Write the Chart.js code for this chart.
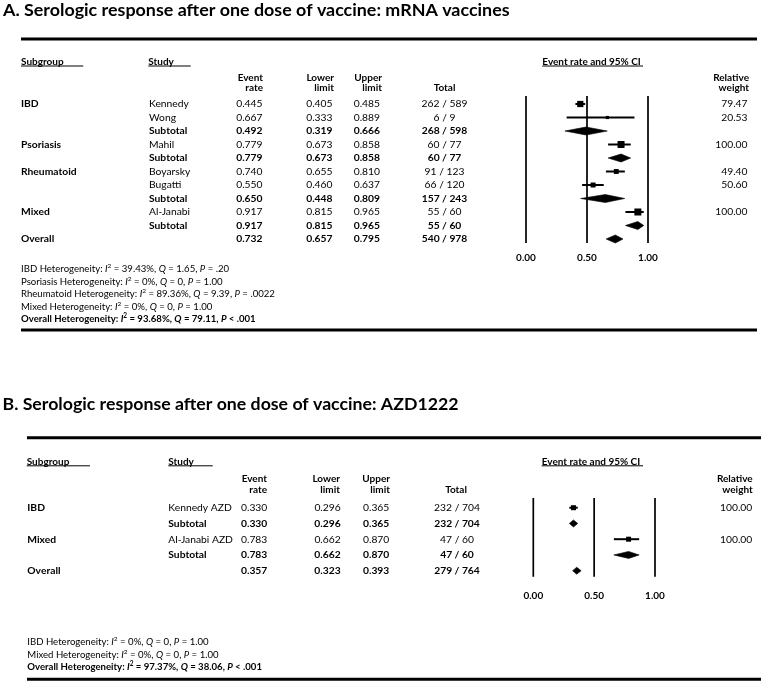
<!DOCTYPE html>
<html><head><meta charset="utf-8">
<script src="https://cdn.jsdelivr.net/npm/chart.js@4.4.1/dist/chart.umd.min.js"></script>
<style>
html,body{margin:0;padding:0;background:#fff;overflow:hidden}
#wrap{position:relative;width:763px;height:682px;background:#fff}
canvas{position:absolute;left:0}
</style></head><body>
<div id="wrap">
<canvas id="cA" width="763" height="382" style="top:0px"></canvas>
<canvas id="cB" width="763" height="300" style="top:382px"></canvas>
</div>
<script>
// ---------- DATA ----------
const tickValues = [0, 0.5, 1];
const tickLabels = ["0.00", "0.50", "1.00"];

// Panel A: mRNA vaccines
const aTitle = "A. Serologic response after one dose of vaccine: mRNA vaccines";
const aSubgroups = ["IBD", "", "", "Psoriasis", "", "Rheumatoid", "", "", "Mixed", "", "Overall"];
const aStudies = ["Kennedy", "Wong", "Subtotal", "Mahil", "Subtotal", "Boyarsky", "Bugatti", "Subtotal", "Al-Janabi", "Subtotal", ""];
const aKinds = ["s", "s", "d", "s", "d", "s", "s", "d", "s", "d", "o"];
const aRate = [0.445, 0.667, 0.492, 0.779, 0.779, 0.740, 0.550, 0.650, 0.917, 0.917, 0.732];
const aLower = [0.405, 0.333, 0.319, 0.673, 0.673, 0.655, 0.460, 0.448, 0.815, 0.815, 0.657];
const aUpper = [0.485, 0.889, 0.666, 0.858, 0.858, 0.810, 0.637, 0.809, 0.965, 0.965, 0.795];
const aTotals = ["262 / 589", "6 / 9", "268 / 598", "60 / 77", "60 / 77", "91 / 123", "66 / 120", "157 / 243", "55 / 60", "55 / 60", "540 / 978"];
const aWeights = ["79.47", "20.53", "", "100.00", "", "49.40", "50.60", "", "100.00", "", ""];
const aHetNames = ["IBD", "Psoriasis", "Rheumatoid", "Mixed", "Overall"];
const aHetI2 = ["39.43%", "0%", "89.36%", "0%", "93.68%"];
const aHetQ = ["1.65", "0", "9.39", "0", "79.11"];
const aHetP = ["= .20", "= 1.00", "= .0022", "= 1.00", "< .001"];

// Panel B: AZD1222
const bTitle = "B. Serologic response after one dose of vaccine: AZD1222";
const bSubgroups = ["IBD", "", "Mixed", "", "Overall"];
const bStudies = ["Kennedy AZD", "Subtotal", "Al-Janabi AZD", "Subtotal", ""];
const bKinds = ["s", "d", "s", "d", "o"];
const bRate = [0.330, 0.330, 0.783, 0.783, 0.357];
const bLower = [0.296, 0.296, 0.662, 0.662, 0.323];
const bUpper = [0.365, 0.365, 0.870, 0.870, 0.393];
const bTotals = ["232 / 704", "232 / 704", "47 / 60", "47 / 60", "279 / 764"];
const bWeights = ["100.00", "", "100.00", "", ""];
const bHetNames = ["IBD", "Mixed", "Overall"];
const bHetI2 = ["0%", "0%", "97.37%"];
const bHetQ = ["0", "0", "38.06"];
const bHetP = ["= 1.00", "= 1.00", "< .001"];

// ---------- LAYOUT / STYLE ----------
const FONT = 'Lato, "Open Sans", sans-serif';
const FS = 10.3;     // table text
const FSH = 10;      // header text
const FSHET = 9.6;   // heterogeneity text
const AXH = 30;

const LA = {
  off: 0, h: 382,
  title: {x: 3, y: 15.5, w: 507},
  topRule: {y: 39, x0: 21, x1: 757},
  botRule: {y: 330, x0: 21, x1: 757},
  hdr1Y: 61.5, hSub: {x: 21, ul: 83.3}, hStudy: {x: 148.3, ul: 190.7}, hCI: {x: 542.3, ul: 643},
  hdr2Y: [77.5, 87.5],
  hdrR: {er: 263, ll: 334, ul: 382, tot: 444.5, wt: 749},
  cols: {sub: 21, study: 149, er: 262.5, ll: 332.5, ul: 380, tot: 444.5, wt: 747.5},
  row0: 104, rowH: 13.5,
  plot: {x0: 526, x1: 648, top: 96, bot: 243, tickY: 258},
  het: {x: 21, y0: 269, dy: 12.6},
  sq: 0.7, dh: 4
};
const LB = {
  off: 382, h: 300,
  title: {x: 2.5, y: 409.5, w: 456.5},
  topRule: {y: 437.7, x0: 27, x1: 761},
  botRule: {y: 679.3, x0: 27, x1: 761},
  hdr1Y: 461.3, hSub: {x: 26.7, ul: 90}, hStudy: {x: 168.3, ul: 212.7}, hCI: {x: 541.7, ul: 643},
  hdr2Y: [479, 489.3],
  hdrR: {er: 267, ll: 340, ul: 390, tot: 456, wt: 752.7},
  cols: {sub: 27.3, study: 168.3, er: 267.3, ll: 340.7, ul: 389.3, tot: 457, wt: 752.3},
  row0: 507.7, rowH: 15.75,
  plot: {x0: 533.3, x1: 655, top: 498, bot: 576.7, tickY: 595.7},
  het: {x: 27.3, y0: 642.3, dy: 12.35},
  sq: 0.5, dh: 3.5
};

// ---------- DRAW HELPERS ----------
function setFont(ctx, size, bold, italic) {
  ctx.font = (italic ? 'italic ' : '') + (bold ? 'bold ' : '') + size + 'px ' + FONT;
}
function txt(ctx, s, x, y, align, bold, size) {
  setFont(ctx, size || FS, bold, false);
  ctx.textAlign = align || 'left';
  ctx.textBaseline = 'middle';
  ctx.fillStyle = '#000';
  ctx.fillText(s, x, y);
}
function underlined(ctx, s, x, y, x1) {
  txt(ctx, s, x, y, 'left', true, FSH);
  ctx.beginPath();
  ctx.lineWidth = 1;
  ctx.strokeStyle = '#000';
  ctx.moveTo(x, y + 4.5); ctx.lineTo(x1, y + 4.5);
  ctx.stroke();
}
function rule(ctx, r, off) {
  ctx.beginPath();
  ctx.lineWidth = 3;
  ctx.strokeStyle = '#000';
  ctx.moveTo(r.x0, r.y - off); ctx.lineTo(r.x1, r.y - off);
  ctx.stroke();
}
function rich(ctx, x, y, segs, bold) {
  let cx = x;
  ctx.textAlign = 'left';
  ctx.textBaseline = 'middle';
  ctx.fillStyle = '#000';
  segs.forEach(([t, st]) => {
    let size = FSHET, dy = 0;
    if (st === 'sup') { size = FSHET * 0.68; dy = -FSHET * 0.32; }
    setFont(ctx, size, bold, st === 'i');
    ctx.fillText(t, cx, y + dy);
    cx += ctx.measureText(t).width;
  });
}

function textPlugin(L, T) {
  return {
    id: 'tableText',
    afterDraw(chart) {
      const ctx = chart.ctx, o = L.off;
      ctx.save();
      // title fitted to width
      setFont(ctx, 16, true, false);
      const w = ctx.measureText(T.title).width;
      const size = 16 * L.title.w / w;
      setFont(ctx, size, true, false);
      ctx.textAlign = 'left'; ctx.textBaseline = 'alphabetic'; ctx.fillStyle = '#000';
      ctx.fillText(T.title, L.title.x, L.title.y - o);
      rule(ctx, L.topRule, o);
      rule(ctx, L.botRule, o);
      // headers
      underlined(ctx, "Subgroup", L.hSub.x, L.hdr1Y - o, L.hSub.ul);
      underlined(ctx, "Study", L.hStudy.x, L.hdr1Y - o, L.hStudy.ul);
      underlined(ctx, "Event rate and 95% CI", L.hCI.x, L.hdr1Y - o, L.hCI.ul);
      const y1 = L.hdr2Y[0] - o, y2 = L.hdr2Y[1] - o;
      txt(ctx, "Event", L.hdrR.er, y1, 'right', true, FSH); txt(ctx, "rate", L.hdrR.er, y2, 'right', true, FSH);
      txt(ctx, "Lower", L.hdrR.ll, y1, 'right', true, FSH); txt(ctx, "limit", L.hdrR.ll, y2, 'right', true, FSH);
      txt(ctx, "Upper", L.hdrR.ul, y1, 'right', true, FSH); txt(ctx, "limit", L.hdrR.ul, y2, 'right', true, FSH);
      txt(ctx, "Total", L.hdrR.tot, y2, 'center', true, FSH);
      txt(ctx, "Relative", L.hdrR.wt, y1, 'right', true, FSH); txt(ctx, "weight", L.hdrR.wt, y2, 'right', true, FSH);
      // rows
      T.studies.forEach((st, i) => {
        const y = L.row0 + L.rowH * i - o;
        const b = T.kinds[i] !== 's';
        if (T.subgroups[i]) txt(ctx, T.subgroups[i], L.cols.sub, y, 'left', true);
        if (st) txt(ctx, st, L.cols.study, y, 'left', b);
        txt(ctx, T.rate[i].toFixed(3), L.cols.er, y, 'right', b);
        txt(ctx, T.lower[i].toFixed(3), L.cols.ll, y, 'right', b);
        txt(ctx, T.upper[i].toFixed(3), L.cols.ul, y, 'right', b);
        txt(ctx, T.totals[i], L.cols.tot, y, 'center', b);
        if (T.weights[i]) txt(ctx, T.weights[i], L.cols.wt, y, 'right', false);
      });
      // heterogeneity
      T.hetNames.forEach((n, i) => {
        const y = L.het.y0 + L.het.dy * i - o;
        const segs = [[n + " Heterogeneity: ", 'n'], ["I", 'i'], ["2", 'sup'], [" = " + T.hetI2[i] + ", ", 'n'],
          ["Q", 'i'], [" = " + T.hetQ[i] + ", ", 'n'], ["P", 'i'], [" " + T.hetP[i], 'n']];
        rich(ctx, L.het.x, y, segs, n === "Overall");
      });
      ctx.restore();
    }
  };
}

function buildDatasets(T, L) {
  const ds = [];
  const yMin = (L.plot.top - L.row0) / L.rowH, yMax = (L.plot.bot - L.row0) / L.rowH;
  tickValues.forEach(v => ds.push({
    data: [{x: v, y: yMin}, {x: v, y: yMax}], borderColor: '#000', borderWidth: 1.7,
    pointRadius: 0, fill: false, clip: false
  }));
  const sqPts = [], sqR = [];
  T.rate.forEach((e, i) => {
    if (T.kinds[i] === 's') {
      ds.push({data: [{x: T.lower[i], y: i}, {x: T.upper[i], y: i}], borderColor: '#000', borderWidth: 2,
        pointRadius: 0, fill: false, clip: false});
      sqPts.push({x: e, y: i});
      sqR.push(L.sq * Math.sqrt(parseFloat(T.weights[i])) / Math.SQRT2);
    } else {
      const h = L.dh / L.rowH;
      ds.push({data: [{x: T.lower[i], y: i}, {x: e, y: i - h}, {x: T.upper[i], y: i}, {x: e, y: i + h}, {x: T.lower[i], y: i}],
        borderColor: '#000', borderWidth: 0.6, backgroundColor: '#000', pointRadius: 0, fill: 'shape', clip: false});
    }
  });
  ds.push({data: sqPts, showLine: false, pointStyle: 'rect', pointRadius: sqR,
    pointBackgroundColor: '#000', pointBorderColor: '#000', pointBorderWidth: 0, clip: false});
  return {ds, yMin, yMax};
}

function makeChart(id, T, L) {
  const {ds, yMin, yMax} = buildDatasets(T, L);
  const tickPad = L.plot.tickY - L.plot.bot - FSH * 0.6;
  return new Chart(document.getElementById(id), {
    type: 'line',
    data: {datasets: ds},
    options: {
      responsive: false, animation: false, devicePixelRatio: 1, events: [],
      layout: {padding: {left: L.plot.x0, right: 763 - L.plot.x1, top: L.plot.top - L.off,
        bottom: L.h - (L.plot.bot - L.off) - AXH}},
      plugins: {legend: {display: false}, tooltip: {enabled: false}},
      scales: {
        x: {type: 'linear', min: 0, max: 1, position: 'bottom',
          grid: {display: false, drawTicks: false}, border: {display: false},
          afterBuildTicks: s => { s.ticks = tickValues.map(v => ({value: v})); },
          afterFit: s => { s.height = AXH; },
          ticks: {padding: tickPad, color: '#000', maxRotation: 0, autoSkip: false,
            font: {family: FONT, size: FSH, weight: 'bold'},
            callback: (v, i) => tickLabels[i]}},
        y: {type: 'linear', min: yMin, max: yMax, reverse: true, display: false}
      }
    },
    plugins: [textPlugin(L, T)]
  });
}

makeChart('cA', {title: aTitle, subgroups: aSubgroups, studies: aStudies, kinds: aKinds, rate: aRate, lower: aLower,
  upper: aUpper, totals: aTotals, weights: aWeights, hetNames: aHetNames, hetI2: aHetI2, hetQ: aHetQ, hetP: aHetP}, LA);
makeChart('cB', {title: bTitle, subgroups: bSubgroups, studies: bStudies, kinds: bKinds, rate: bRate, lower: bLower,
  upper: bUpper, totals: bTotals, weights: bWeights, hetNames: bHetNames, hetI2: bHetI2, hetQ: bHetQ, hetP: bHetP}, LB);
</script>
</body></html>
